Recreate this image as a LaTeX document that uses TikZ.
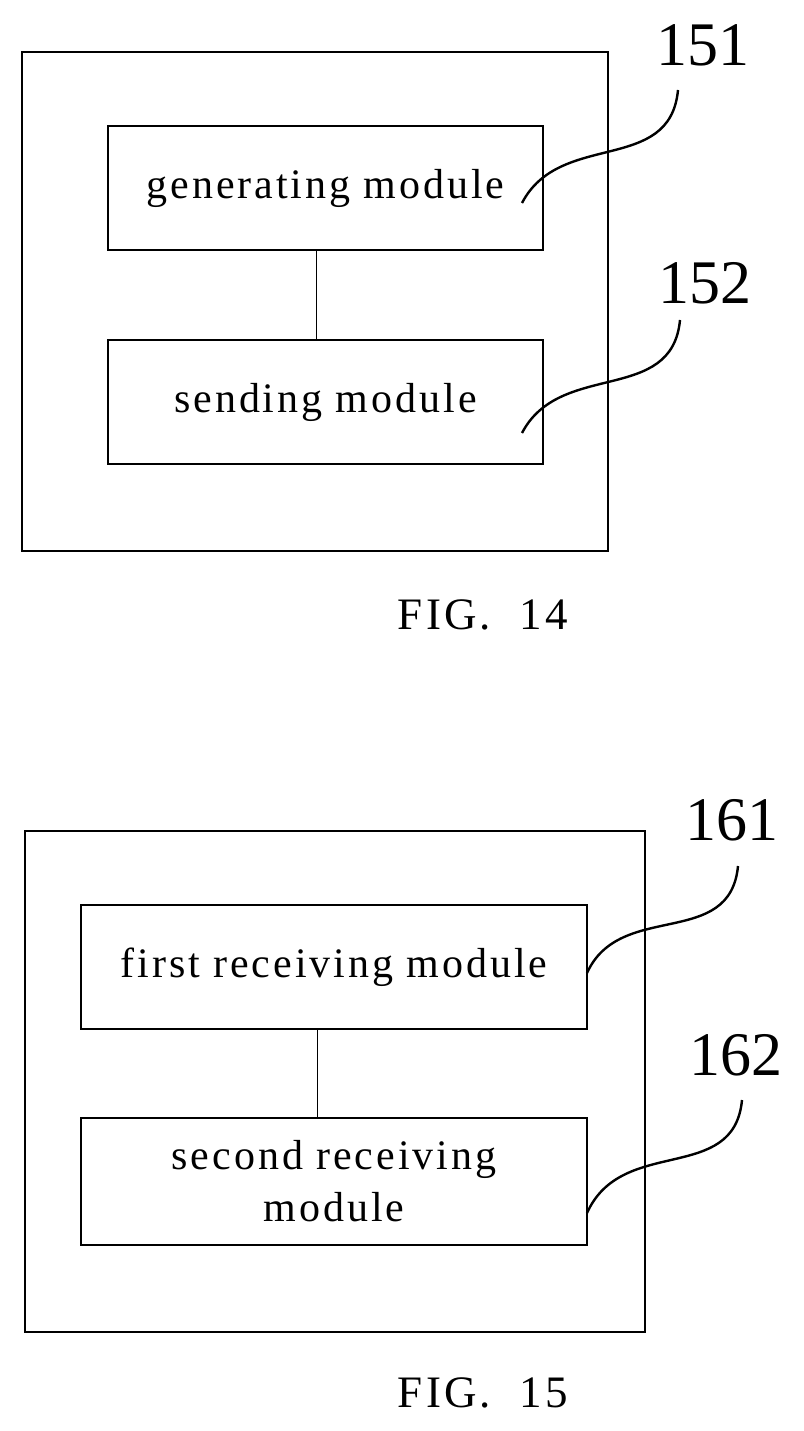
\documentclass[tikz,border=0pt]{standalone}
\usepackage{fontspec}
\setmainfont{Liberation Serif}
\newfontfamily\spaced[LetterSpace=7]{Liberation Serif}
\begin{document}
\begin{tikzpicture}[x=1pt, y=-1pt,
  frame/.style={draw, line width=2.6pt},
  module/.style={draw, line width=2.6pt, minimum width=435pt, minimum height=124pt, align=center, font=\spaced\fontsize{42}{52}\selectfont},
  refnum/.style={font=\fontsize{62}{66}\selectfont},
  figlabel/.style={font=\spaced\fontsize{45}{50}\selectfont},
  lead/.style={line width=2.4pt}]
\useasboundingbox (0,0) rectangle (803,1431);
% FIG. 14
\draw[frame] (22,52) rectangle (608,551);
\node[module] (gen) at (325.5,188) {generating module};
\node[module] (send) at (325.5,402) {sending module};
\draw (gen.south -| 316,0) -- (send.north -| 316,0);
\node[refnum] (n151) at (703,45) {151};
\node[refnum] (n152) at (705,283) {152};
\coordinate (g1) at (522,203);
\coordinate (s1) at (522,433);
\draw[lead] (g1) .. controls (560,130) and (670,175) .. (678,90);
\draw[lead] (s1) .. controls (560,360) and (672,405) .. (680,320);
\node[figlabel] (fig14) at (483,615) {FIG.\ \ 14};
% FIG. 15
\draw[frame] (25,831) rectangle (645,1332);
\node[module, minimum width=506pt] (first) at (334,967) {first receiving module};
\node[module, minimum width=506pt, minimum height=127pt] (second) at (334,1181.5) {second receiving\\module};
\draw (first.south -| 317,0) -- (second.north -| 317,0);
\node[refnum] (n161) at (732,820) {161};
\node[refnum] (n162) at (736,1055) {162};
\coordinate (f1) at (587,973);
\coordinate (r1) at (587,1213);
\draw[lead] (f1) .. controls (620,900) and (730,950) .. (738,866);
\draw[lead] (r1) .. controls (622,1135) and (734,1185) .. (742,1100);
\node[figlabel] (fig15) at (483,1393) {FIG.\ \ 15};
\end{tikzpicture}
\end{document}
